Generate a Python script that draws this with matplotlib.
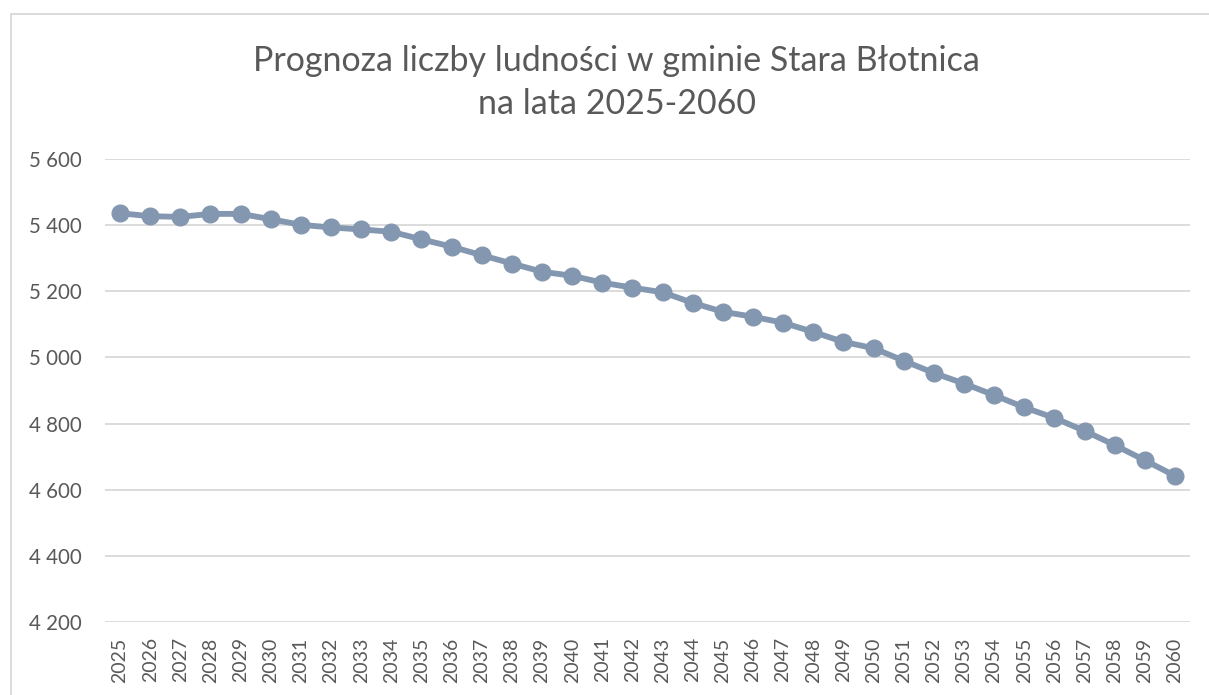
import matplotlib.pyplot as plt
from matplotlib.patches import Rectangle
from matplotlib.ticker import FuncFormatter

# Projected population, 2025-2060
years = list(range(2025, 2061))
population = [
    5436, 5427, 5425, 5434, 5434, 5418, 5401, 5393, 5387, 5380,
    5357, 5335, 5309, 5284, 5259, 5247, 5226, 5211, 5197, 5165,
    5138, 5123, 5105, 5077, 5047, 5028, 4990, 4953, 4921, 4886,
    4849, 4817, 4778, 4735, 4689, 4642,
]
y_ticks = [4200, 4400, 4600, 4800, 5000, 5200, 5400, 5600]

text_color = '#595959'
line_color = '#8497B0'
grid_color = '#D9D9D9'

plt.rcParams['font.family'] = ['Lato', 'DejaVu Sans']

W, H = 1209, 695
fig = plt.figure(figsize=(W / 100, H / 100), dpi=100)

# chart frame
fig.patches.append(Rectangle((11 / W, -0.05), 1.2, 1 - 14 / H + 0.05,
                             transform=fig.transFigure, fill=False,
                             edgecolor=grid_color, linewidth=1.3))

ax = fig.add_axes([105 / W, 1 - 622 / H, (1190 - 105) / W, (622 - 159) / H])
x = list(range(len(years)))
ax.plot(x, population, color=line_color, linewidth=4.2, marker='o',
        markersize=12, solid_capstyle='round')

ax.set_xlim(-0.5, len(years) - 0.5)
ax.set_ylim(4200, 5600)
ax.set_yticks(y_ticks)
ax.yaxis.set_major_formatter(FuncFormatter(lambda v, p: f'{int(v):,}'.replace(',', ' ')))
ax.set_xticks(x)
ax.set_xticklabels([str(y) for y in years], rotation=90)
ax.grid(axis='y', color=grid_color, linewidth=1.3)
ax.set_axisbelow(True)
for side in ['top', 'right', 'left', 'bottom']:
    ax.spines[side].set_visible(False)
ax.tick_params(axis='both', length=0, colors=text_color)
ax.tick_params(axis='y', pad=16.5, labelsize=14.8)
ax.tick_params(axis='x', pad=11, labelsize=14)

fig.text(0.51, 1 - 61 / H, 'Prognoza liczby ludności w gminie Stara Błotnica',
         ha='center', va='center', fontsize=24.5, color=text_color)
fig.text(0.51, 1 - 104 / H, 'na lata 2025-2060',
         ha='center', va='center', fontsize=24.5, color=text_color)

fig.savefig('out.png', dpi=100, facecolor='white')
